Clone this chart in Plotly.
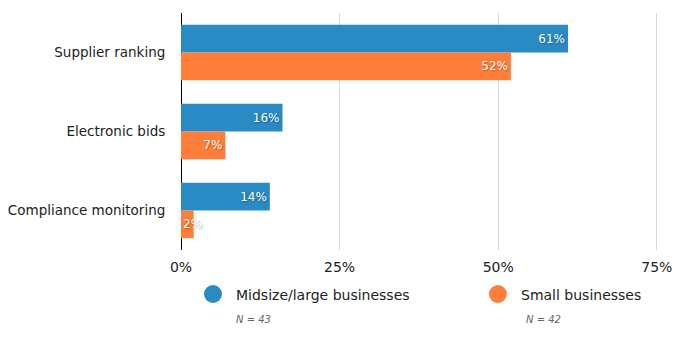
import plotly.graph_objects as go

categories = ["Supplier ranking", "Electronic bids", "Compliance monitoring"]
midsize_large = [61, 16, 14]
small = [52, 7, 2]
series_names = ["Midsize/large businesses", "Small businesses"]
sample_sizes = ["N = 43", "N = 42"]
tick_vals = [0, 25, 50, 75]
tick_text = ["0%", "25%", "50%", "75%"]

BLUE = "#2a8ac4"
ORANGE = "#ff7f3a"
FONT = "DejaVu Sans"
SHADOW = "1px 1px 2px rgba(0,0,0,0.35)"
X_MAX = 75.5
FIT_MIN = 5  # values below this don't fit their label inside the bar

plot_w = 476 * X_MAX / 75
fig = go.Figure()
series = [(series_names[0], midsize_large, BLUE, 13.8), (series_names[1], small, ORANGE, -13.8)]
for name, vals, col, yshift in series:
    fig.add_trace(go.Bar(
        y=categories, x=vals, name=name, orientation="h",
        marker=dict(color=col, line=dict(width=0)),
        text=[f"{v}%" if v >= FIT_MIN else "" for v in vals],
        textposition="inside", insidetextanchor="end",
        constraintext="none", textangle=0,
        textfont=dict(family=FONT, size=12, color="white", shadow=SHADOW),
        showlegend=False,
    ))
    for cat, v in zip(categories, vals):
        if v < FIT_MIN:
            fig.add_annotation(x=0, y=cat, xref="x", yref="y", text=f"{v}%", showarrow=False,
                               xanchor="left", yanchor="middle", xshift=0, yshift=yshift,
                               font=dict(family=FONT, size=12, color="white", shadow=SHADOW))

fig.update_layout(
    width=675, height=342,
    margin=dict(l=181, r=675 - 181 - plot_w, t=13, b=92, autoexpand=False),
    barmode="group", bargap=0.3, bargroupgap=0,
    plot_bgcolor="white", paper_bgcolor="white",
    font=dict(family=FONT, color="#222"),
    xaxis=dict(range=[0, X_MAX], tickvals=tick_vals, ticktext=tick_text, automargin=False,
               showgrid=True, gridcolor="#d9d9d9", gridwidth=1,
               zeroline=True, zerolinecolor="black", zerolinewidth=1,
               tickfont=dict(family=FONT, size=14, color="#222"),
               ticks="outside", ticklen=4, tickcolor="rgba(0,0,0,0)"),
    yaxis=dict(autorange="reversed", showgrid=False, automargin=False,
               ticks="outside", ticklen=12, tickcolor="rgba(0,0,0,0)",
               tickfont=dict(family=FONT, size=13.5, color="#222")),
)

# legend (custom)
xs_circle = [213, 498]
xs_text = [234, 519]
xs_n = [234, 524]
for i, col in enumerate([BLUE, ORANGE]):
    fig.add_shape(type="circle", xref="paper", yref="paper",
                  x0=(xs_circle[i] - 9 - 181) / plot_w, x1=(xs_circle[i] + 9 - 181) / plot_w,
                  y0=(250 - 294 - 9) / 237, y1=(250 - 294 + 9) / 237,
                  fillcolor=col, line=dict(width=0))
    fig.add_annotation(xref="paper", yref="paper", x=(xs_text[i] - 181) / plot_w, y=(250 - 295) / 237,
                       text=series_names[i], showarrow=False, xanchor="left", yanchor="middle",
                       font=dict(family=FONT, size=14, color="#222"))
    fig.add_annotation(xref="paper", yref="paper", x=(xs_n[i] - 181) / plot_w, y=(250 - 319) / 237,
                       text=f"<i>{sample_sizes[i]}</i>", showarrow=False, xanchor="left", yanchor="middle",
                       font=dict(family=FONT, size=10, color="#666"))

fig.write_html("out.html")
